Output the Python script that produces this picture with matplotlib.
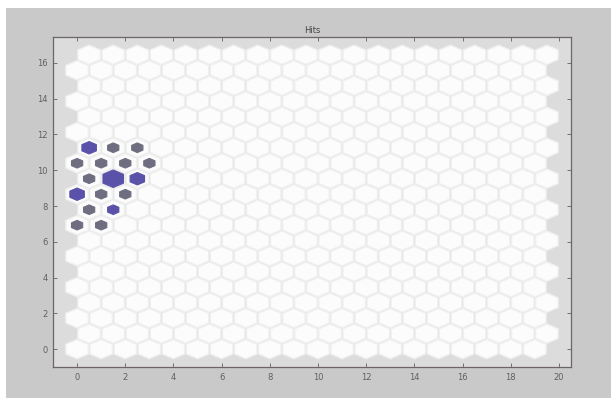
import numpy as np
import matplotlib
matplotlib.use('Agg')
import matplotlib.pyplot as plt
from matplotlib.collections import PolyCollection
from matplotlib.patches import Rectangle

# SOM topology (hexagonal grid)
n_cols = 20
n_rows = 20

# neurons with hits: column index, row index, hit count
hit_col = [0, 1, 2, 0, 1, 2, 3, 0, 1, 2, 0, 1, 2, 0, 1, 0, 1]
hit_row = [13, 13, 13, 12, 12, 12, 12, 11, 11, 11, 10, 10, 10, 9, 9, 8, 8]
hits = [5, 3, 3, 3, 3, 3, 3, 3, 10, 5, 5, 3, 3, 3, 3, 3, 3]

x_ticks = list(range(0, 21, 2))
y_ticks = list(range(0, 17, 2))
title = "Hits"

# styles
hit_shade = ['b', 'g', 'g', 'g', 'g', 'g', 'g', 'g', 'b', 'b', 'b', 'g', 'g', 'g', 'b', 'g', 'g']
shade_colors = {'b': '#5a52a8', 'g': '#6e6e80'}


def hex_pos(c, r):
    return c + 0.5 * (r % 2), r * np.sqrt(3) / 2


def hexagon(cx, cy, scale):
    R = scale * 0.5 / np.cos(np.pi / 6)
    ang = np.pi / 2 + np.arange(6) * np.pi / 3
    return np.column_stack([cx + R * np.cos(ang), cy + R * np.sin(ang)])


fig = plt.figure(figsize=(6.11, 3.98), dpi=100)
fig.patch.set_facecolor('white')
fig.patches.append(Rectangle((6 / 611, 0), 1, 1 - 8 / 398, transform=fig.transFigure,
                             facecolor='#c9c9c9', edgecolor='none', zorder=-5))

ax = fig.add_axes([53 / 611, 1 - 367 / 398, 518 / 611, 330 / 398])
ax.set_zorder(5)
ax.set_facecolor('#dcdcdc')

cells = []
for r in range(n_rows):
    for c in range(n_cols):
        x, y = hex_pos(c, r)
        cells.append(hexagon(x, y, 0.93))
ax.add_collection(PolyCollection(cells, facecolors='#fcfcfc', edgecolors='#f0f0f0',
                                 linewidths=1.0, zorder=1))

max_hits = max(hits)
hit_polys = []
hit_cols_ = []
for c, r, h, s in zip(hit_col, hit_row, hits, hit_shade):
    x, y = hex_pos(c, r)
    hit_polys.append(hexagon(x, y, 0.85 * np.sqrt(h / max_hits)))
    hit_cols_.append(shade_colors[s])
ax.add_collection(PolyCollection(hit_polys, facecolors=hit_cols_, edgecolors=hit_cols_,
                                 linewidths=0.8, zorder=2))

ax.set_xlim(-1, 20.5)
ax.set_ylim(-1, 17.45)
ax.set_xticks(x_ticks)
ax.set_yticks(y_ticks)
ax.tick_params(direction='in', top=True, right=True, length=3, width=0.6,
               labelsize=6, colors='#606060', pad=4)
for sp in ax.spines.values():
    sp.set_color('#6e6666')
    sp.set_linewidth(0.9)
ax.set_title(title, fontsize=6, color='#444444', pad=3)

fig.savefig('out.png', dpi=100, facecolor=fig.get_facecolor())
